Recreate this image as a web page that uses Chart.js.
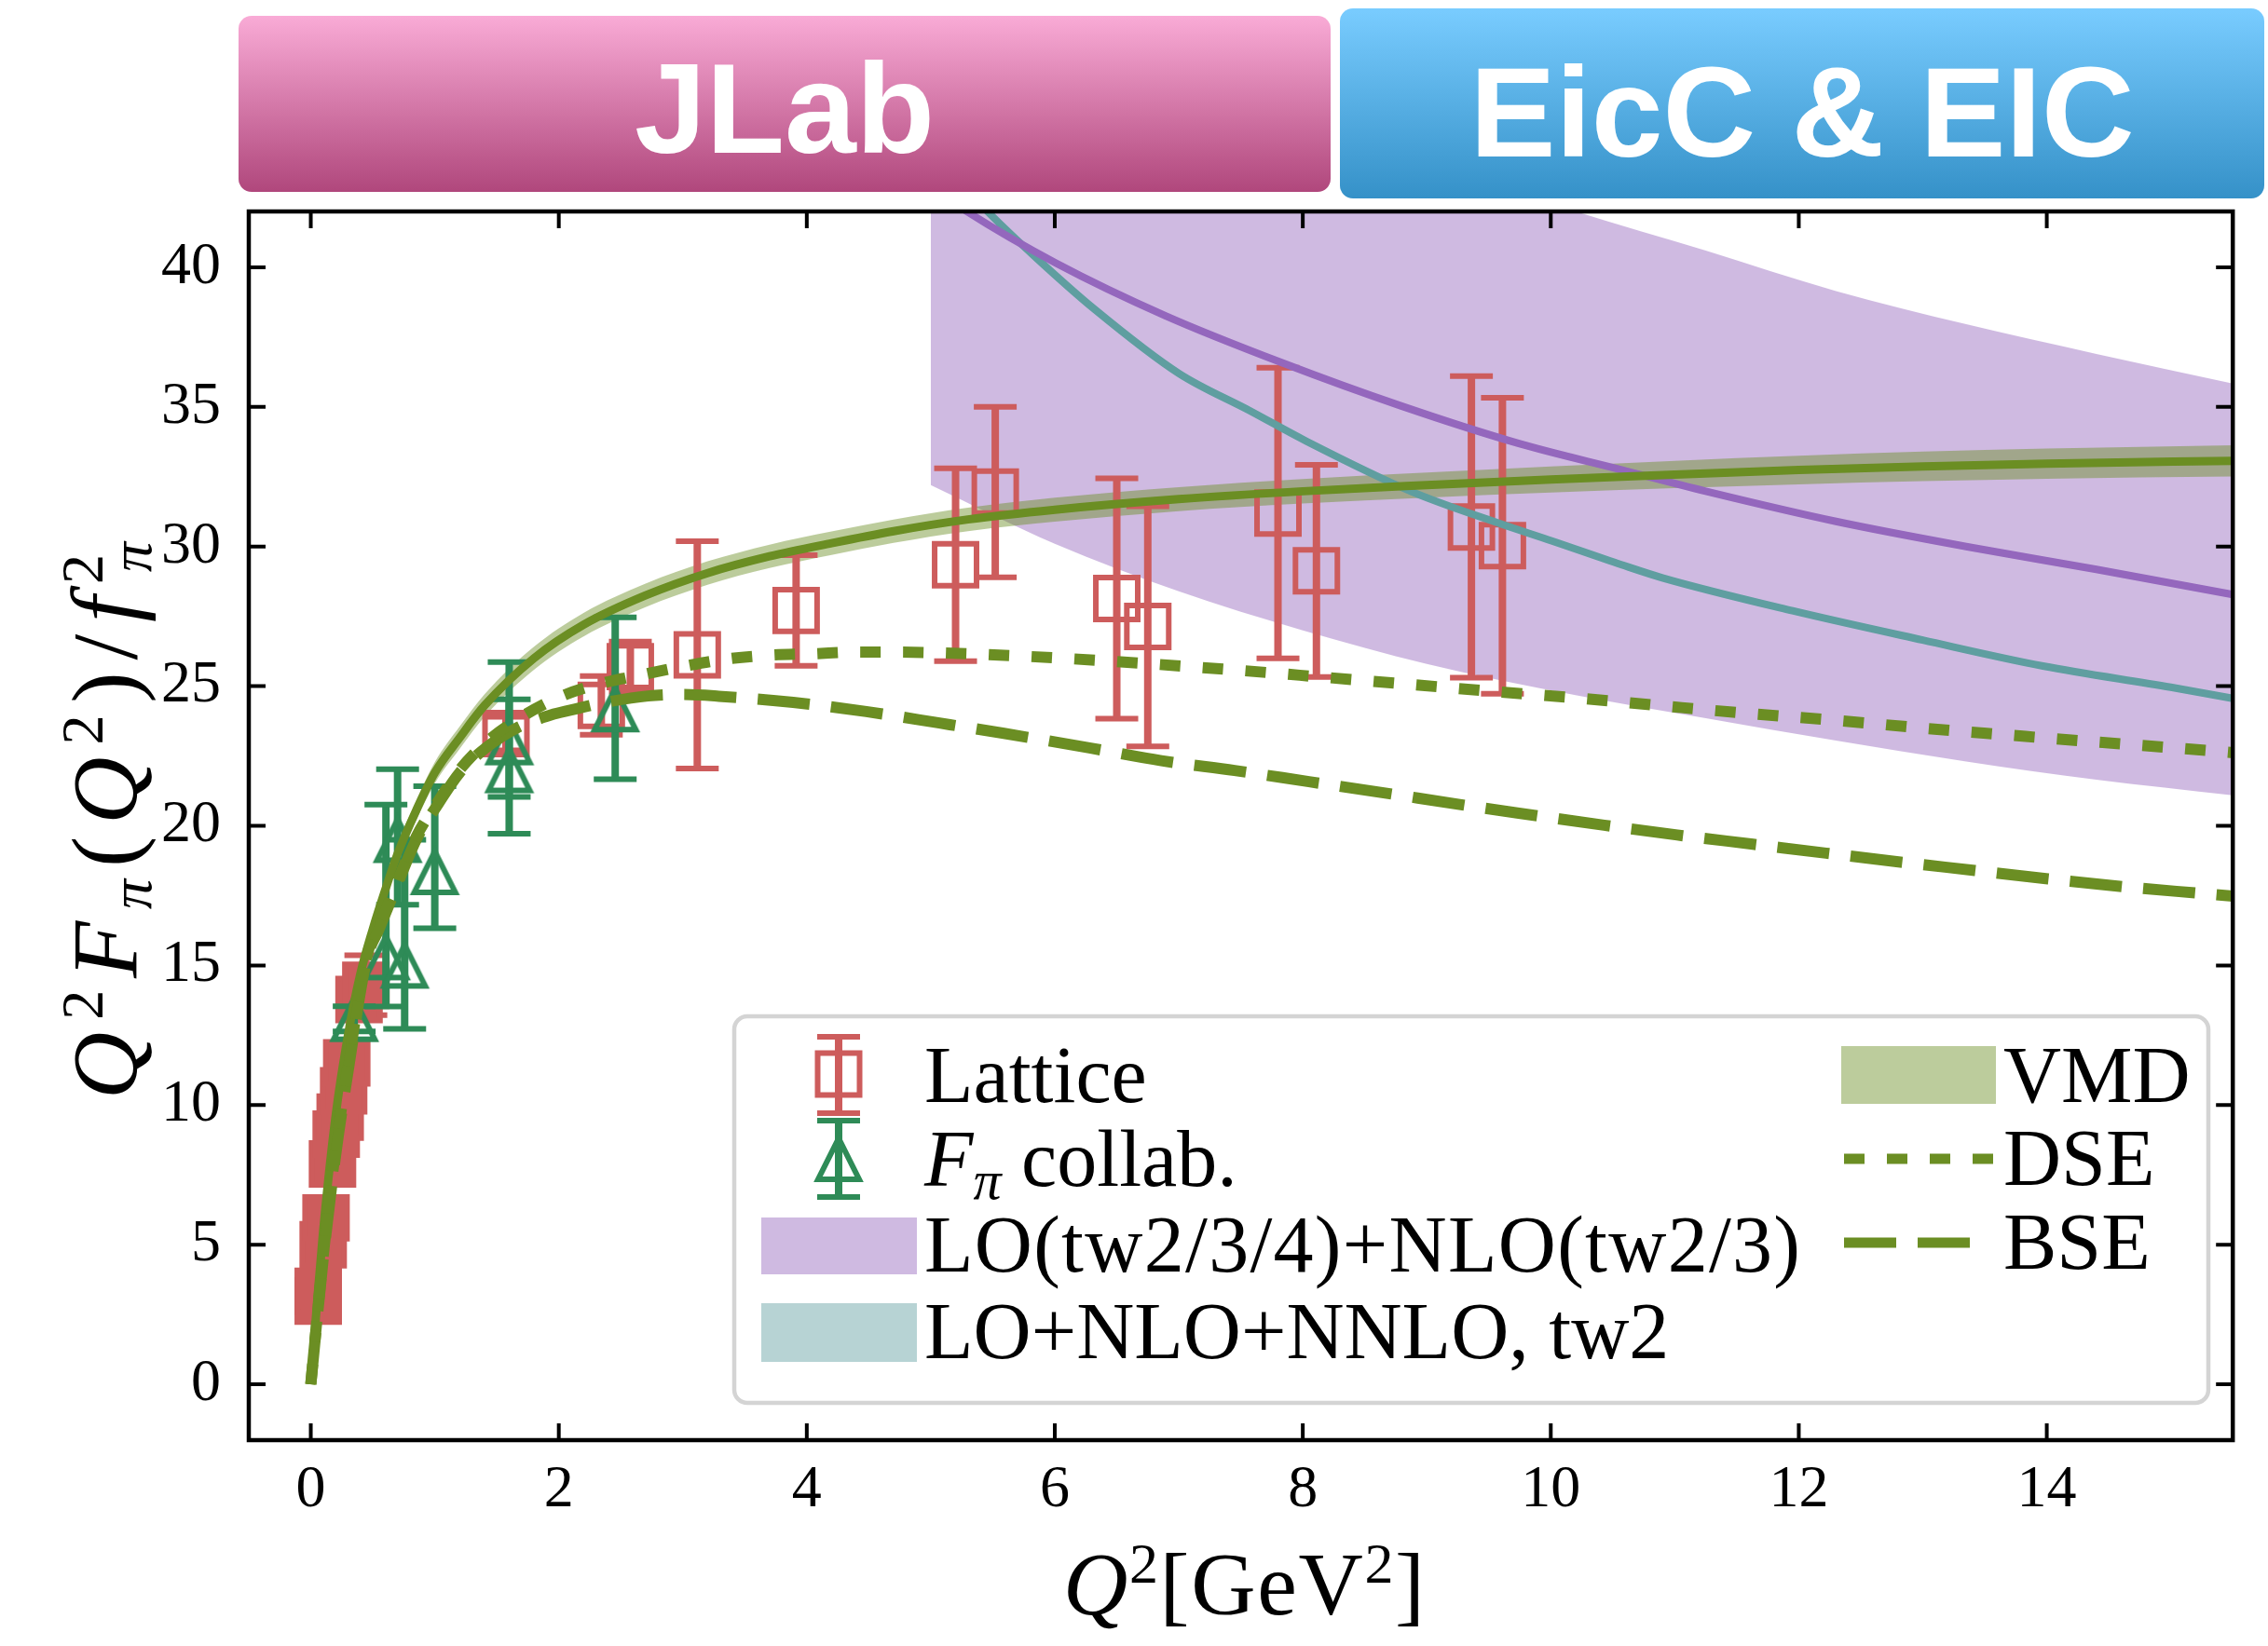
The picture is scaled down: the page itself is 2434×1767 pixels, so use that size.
<!DOCTYPE html>
<html>
<head>
<meta charset="utf-8">
<title>Pion form factor</title>
<script src="https://cdn.jsdelivr.net/npm/chart.js@4.4.0/dist/chart.umd.min.js"></script>
<style>
  html, body { margin: 0; padding: 0; background: #fff; }
  #wrap { position: relative; width: 2434px; height: 1767px; }
  #chart { position: absolute; left: 0; top: 0; }
  #overlay { position: absolute; left: 0; top: 0; pointer-events: none; }
  #overlay text { font-family: "Liberation Serif", "Times New Roman", serif; fill: #000; }
  #overlay .banner { font-family: "Liberation Sans", Arial, sans-serif; font-weight: bold; font-size: 138px; fill: #fff; }
</style>
</head>
<body>
<div id="wrap">
  <canvas id="chart" width="2434" height="1767"></canvas>
  <svg id="overlay" width="2434" height="1767" xmlns="http://www.w3.org/2000/svg">
    <defs>
      <linearGradient id="jlabFill" x1="0" y1="0" x2="0" y2="1">
        <stop offset="0" stop-color="#f9abd6"/>
        <stop offset="1" stop-color="#b0477c"/>
      </linearGradient>
      <linearGradient id="eicFill" x1="0" y1="0" x2="0" y2="1">
        <stop offset="0" stop-color="#79ccff"/>
        <stop offset="1" stop-color="#3591c8"/>
      </linearGradient>
    </defs>

    <!-- facility banners -->
    <rect x="256" y="17" width="1172" height="189" rx="14" fill="url(#jlabFill)"/>
    <rect x="1438" y="9" width="992" height="204" rx="14" fill="url(#eicFill)"/>
    <text class="banner" x="842" y="164" text-anchor="middle">JLab</text>
    <text class="banner" x="1934" y="168" text-anchor="middle">EicC &amp; EIC</text>

    <!-- axis titles -->
    <text x="1335" y="1733" text-anchor="middle" font-size="96" textLength="388" lengthAdjust="spacing"><tspan font-style="italic">Q</tspan><tspan font-size="62" dy="-34">2</tspan><tspan dy="34">[GeV</tspan><tspan font-size="62" dy="-34">2</tspan><tspan dy="34">]</tspan></text>
    <text transform="translate(146 881) rotate(-90)" text-anchor="middle" font-size="100" textLength="598" lengthAdjust="spacing"><tspan font-style="italic">Q</tspan><tspan font-size="64" dy="-36">2</tspan><tspan font-style="italic" dy="36">F</tspan><tspan font-size="64" font-style="italic" dy="16">π</tspan><tspan dy="-16">(</tspan><tspan font-style="italic">Q</tspan><tspan font-size="64" dy="-36">2</tspan><tspan dy="36">)/</tspan><tspan font-style="italic">f</tspan><tspan font-size="64" dy="-36">2</tspan><tspan font-size="64" font-style="italic" dx="-32" dy="52">π</tspan></text>

    <!-- legend -->
    <rect x="788" y="1091" width="1582" height="415" rx="14" fill="#fff" stroke="#d4d4d4" stroke-width="4.5"/>
    <g stroke="#cd5c5c" fill="none">
      <line x1="900" y1="1113" x2="900" y2="1195" stroke-width="8"/>
      <line x1="877" y1="1113" x2="923" y2="1113" stroke-width="6"/>
      <line x1="877" y1="1195" x2="923" y2="1195" stroke-width="6"/>
      <rect x="877.5" y="1130.5" width="45" height="45" stroke-width="6"/>
    </g>
    <g stroke="#2e8b57" fill="none">
      <line x1="900" y1="1203" x2="900" y2="1285" stroke-width="8"/>
      <line x1="877" y1="1203" x2="923" y2="1203" stroke-width="6"/>
      <line x1="877" y1="1285" x2="923" y2="1285" stroke-width="6"/>
      <polygon points="900,1222 878,1266 922,1266" stroke-width="6"/>
    </g>
    <rect x="817" y="1307" width="167" height="61" fill="rgba(148,103,189,0.45)"/>
    <rect x="817" y="1399" width="167" height="63" fill="rgba(95,158,160,0.45)"/>
    <rect x="1976" y="1123" width="166" height="62" fill="rgba(107,142,35,0.45)"/>
    <line x1="1979" y1="1244" x2="2142" y2="1244" stroke="#6b8e23" stroke-width="11" stroke-dasharray="22 24"/>
    <line x1="1979" y1="1334" x2="2115" y2="1334" stroke="#6b8e23" stroke-width="11" stroke-dasharray="56 23"/>

    <text x="992" y="1183" font-size="86">Lattice</text>
    <text x="992" y="1273" font-size="86"><tspan font-style="italic">F</tspan><tspan font-size="60" font-style="italic" dy="14">π</tspan><tspan dy="-14">&#160;collab.</tspan></text>
    <text x="992" y="1365" font-size="86" textLength="940" lengthAdjust="spacing">LO(tw2/3/4)+NLO(tw2/3)</text>
    <text x="992" y="1458" font-size="86">LO+NLO+NNLO, tw2</text>
    <text x="2150" y="1183" font-size="86">VMD</text>
    <text x="2150" y="1272" font-size="86">DSE</text>
    <text x="2150" y="1362" font-size="86">BSE</text>
  </svg>
</div>
<script>
// axis ticks
const xTicks = [0, 2, 4, 6, 8, 10, 12, 14];
const yTicks = [0, 5, 10, 15, 20, 25, 30, 35, 40];

// lattice QCD points (Q^2 in GeV^2, symmetric errors)
const latticeQ2 = [0.06, 0.06, 0.10, 0.123, 0.175, 0.205, 0.237, 0.265, 0.29, 0.389, 0.444,
  1.574, 2.343, 2.577, 3.117, 3.914, 5.20, 5.52, 6.50, 6.75, 7.80, 8.11, 9.36, 9.61];
const latticeVal = [2.98, 3.33, 5.0, 5.96, 7.89, 8.96, 9.57, 10.51, 11.51, 13.78, 14.29,
  23.3, 24.31, 25.7, 26.12, 27.71, 29.35, 31.95, 28.14, 27.14, 31.2, 29.13, 30.7, 30.03];
const latticeErr = [0.4, 0.4, 0.4, 0.4, 0.5, 0.5, 0.5, 0.5, 0.5, 0.5, 1.07,
  0.6, 1.05, 0.9, 4.07, 1.98, 3.45, 3.05, 4.3, 4.3, 5.2, 3.8, 5.4, 5.3];

// F_pi collaboration data
const fpiQ2 = [0.35, 0.606, 0.70, 0.757, 1.00, 1.60, 1.60, 2.455];
const fpiVal = [13.09, 15.3, 19.5, 15.0, 18.35, 23.0, 22.0, 24.18];
const fpiErrHigh = [0.45, 5.46, 2.53, 4.5, 3.07, 2.86, 2.53, 3.28];
const fpiErrLow = [0.45, 1.77, 2.33, 2.27, 2.02, 1.97, 2.28, 2.51];

// LO(tw2/3/4)+NLO(tw2/3) band and central curve
const pqcdBandQ2 = [5.0, 6.0, 7.0, 8.0, 9.0, 10.2, 11.25, 12.3, 13.35, 14.4, 15.5];
const pqcdBandHigh = [53.5, 50.4, 47.8, 45.6, 43.8, 42.0, 40.6, 39.15, 37.96, 36.9, 35.84];
const pqcdBandLow = [32.2, 30.1, 28.4, 27.0, 25.8, 24.68, 23.85, 23.05, 22.3, 21.65, 21.09];
const pqcdQ2 = [5.0, 5.29, 6.01, 6.89, 7.84, 8.79, 9.75, 10.57, 11.25, 12.3, 13.35, 14.4, 15.5];
const pqcdVal = [42.9, 42.0, 40.15, 38.27, 36.57, 35.04, 33.68, 32.75, 31.98, 30.9, 30.0, 29.18, 28.28];

// LO+NLO+NNLO, twist-2
const tw2Q2 = [5.0, 5.48, 5.86, 6.32, 7.0, 7.57, 8.03, 8.87, 9.55, 10.01, 10.57, 10.9, 11.95, 13.0, 13.97, 15.0, 15.5];
const tw2Val = [44.2, 41.9, 40.3, 38.5, 36.2, 34.87, 33.77, 31.98, 30.88, 30.2, 29.35, 28.88, 27.7, 26.65, 25.72, 24.96, 24.56];

// VMD curve with its band
const vmdQ2 = [0, 0.05, 0.1, 0.2, 0.3, 0.4, 0.5, 0.6, 0.7, 0.85, 1.0, 1.2, 1.4, 1.8, 2.2, 2.7, 3.2, 3.7,
  4.2, 4.7, 5.3, 6.0, 7.0, 8.0, 9.0, 10.0, 11.0, 12.0, 13.0, 14.0, 15.5];
const vmdMid = [0, 2.9, 5.5, 9.6, 12.5, 14.7, 16.3, 17.7, 19.0, 20.55, 21.9, 23.15, 24.3, 26.0, 27.2, 28.25, 29.05, 29.65,
  30.12, 30.55, 30.97, 31.32, 31.7, 31.98, 32.2, 32.4, 32.58, 32.74, 32.87, 32.97, 33.07];
const vmdLow = [0, 2.75, 5.3, 9.35, 12.2, 14.4, 16.0, 17.38, 18.66, 20.19, 21.52, 22.75, 23.9, 25.59, 26.78, 27.83, 28.63, 29.23,
  29.7, 30.13, 30.55, 30.89, 31.27, 31.54, 31.75, 31.93, 32.09, 32.23, 32.34, 32.43, 32.51];
const vmdHigh = [0, 3.05, 5.7, 9.85, 12.8, 15.0, 16.6, 18.02, 19.34, 20.91, 22.28, 23.55, 24.7, 26.41, 27.62, 28.67, 29.47, 30.07,
  30.54, 30.97, 31.39, 31.75, 32.13, 32.42, 32.65, 32.87, 33.07, 33.25, 33.4, 33.51, 33.63];

// DSE and BSE predictions
const dseQ2 = [0, 0.1, 0.2, 0.3, 0.45, 0.55, 0.68, 0.85, 1.03, 1.2, 1.43, 1.7, 2.0, 2.3, 2.66, 3.03, 3.37, 3.7, 4.05,
  4.4, 4.75, 5.1, 5.42, 6.14, 6.8, 7.48, 8.17, 8.85, 9.54, 10.22, 10.91, 11.6, 12.29, 12.97, 13.66, 14.34, 15.03, 15.5];
const dseVal = [0, 4.6, 8.4, 11.4, 15.3, 16.4, 17.8, 19.6, 20.9, 22.0, 23.05, 23.9, 24.6, 25.05, 25.4, 25.73, 25.98, 26.11, 26.16,
  26.22, 26.22, 26.19, 26.14, 25.98, 25.79, 25.57, 25.32, 25.07, 24.81, 24.57, 24.29, 24.02, 23.78, 23.51, 23.26, 23.02, 22.79, 22.62];
const bseQ2 = [0, 0.1, 0.2, 0.3, 0.45, 0.55, 0.68, 0.85, 1.03, 1.2, 1.43, 1.66, 1.96, 2.15, 2.35, 2.72, 3.0, 3.29, 3.89,
  4.48, 5.07, 5.59, 6.29, 6.86, 7.45, 8.05, 8.64, 9.24, 9.73, 10.43, 11.02, 11.63, 12.22, 12.82, 13.42, 14.01, 14.62, 15.21, 15.5];
const bseVal = [0, 4.5, 8.2, 11.2, 15.2, 16.3, 17.7, 19.5, 20.8, 21.9, 22.85, 23.5, 24.0, 24.2, 24.4, 24.65, 24.7, 24.64, 24.42,
  24.09, 23.68, 23.31, 22.78, 22.33, 21.98, 21.58, 21.19, 20.78, 20.46, 20.02, 19.67, 19.34, 19.02, 18.7, 18.4, 18.1, 17.82, 17.59, 17.48];

const red = "#cd5c5c";
const green = "#2e8b57";
const olive = "#6b8e23";
const purple = "#9467bd";
const teal = "#5f9ea0";

const pts = (xs, ys) => xs.map((x, i) => ({ x, y: ys[i] }));

// hollow matplotlib-style "^" marker
function triangleMarker(half, lw, color) {
  const c = document.createElement("canvas");
  const s = Math.ceil(2 * half + 4 * lw);
  c.width = s;
  c.height = s;
  const g = c.getContext("2d");
  const m = s / 2;
  g.strokeStyle = color;
  g.lineWidth = lw;
  g.lineJoin = "miter";
  g.beginPath();
  g.moveTo(m, m - half);
  g.lineTo(m + half, m + half);
  g.lineTo(m - half, m + half);
  g.closePath();
  g.stroke();
  return c;
}

// vertical error bars with caps, drawn just under each point set
const errorBars = {
  id: "errorBars",
  beforeDatasetDraw(chart, args) {
    const ds = chart.data.datasets[args.index];
    if (!ds.errLow) return;
    const { ctx, chartArea: a, scales } = chart;
    ctx.save();
    ctx.beginPath();
    ctx.rect(a.left, a.top, a.right - a.left, a.bottom - a.top);
    ctx.clip();
    ctx.strokeStyle = ds.pointBorderColor;
    ds.data.forEach((p, i) => {
      const px = scales.x.getPixelForValue(p.x);
      const top = scales.y.getPixelForValue(p.y + ds.errHigh[i]);
      const bot = scales.y.getPixelForValue(p.y - ds.errLow[i]);
      ctx.lineWidth = 8;
      ctx.beginPath();
      ctx.moveTo(px, top);
      ctx.lineTo(px, bot);
      ctx.stroke();
      ctx.lineWidth = 6;
      ctx.beginPath();
      ctx.moveTo(px - 23, top);
      ctx.lineTo(px + 23, top);
      ctx.moveTo(px - 23, bot);
      ctx.lineTo(px + 23, bot);
      ctx.stroke();
    });
    ctx.restore();
  },
};

// box frame with inward ticks on all four sides
const frame = {
  id: "frame",
  afterDatasetsDraw(chart) {
    const { ctx, chartArea: a, scales } = chart;
    const len = 18;
    ctx.save();
    ctx.strokeStyle = "#000";
    ctx.lineWidth = 4;
    ctx.beginPath();
    xTicks.forEach((v) => {
      const px = scales.x.getPixelForValue(v);
      ctx.moveTo(px, a.bottom);
      ctx.lineTo(px, a.bottom - len);
      ctx.moveTo(px, a.top);
      ctx.lineTo(px, a.top + len);
    });
    yTicks.forEach((v) => {
      const py = scales.y.getPixelForValue(v);
      ctx.moveTo(a.left, py);
      ctx.lineTo(a.left + len, py);
      ctx.moveTo(a.right, py);
      ctx.lineTo(a.right - len, py);
    });
    ctx.stroke();
    ctx.lineWidth = 4.5;
    ctx.strokeRect(a.left, a.top, a.right - a.left, a.bottom - a.top);
    ctx.restore();
  },
};

const tickFont = { family: "'Liberation Serif', 'Times New Roman', serif", size: 64 };
const band = (data, color, fill, order) => ({
  data, fill, backgroundColor: color, borderColor: "rgba(0,0,0,0)", borderWidth: 0,
  pointRadius: 0, clip: 0, order,
});
const curve = (label, data, color, width, dash, order) => ({
  label, data, borderColor: color, borderWidth: width, borderDash: dash, borderCapStyle: "butt",
  fill: false, pointRadius: 0, clip: 0, order,
});

const datasets = [
  band(pts(pqcdBandQ2, pqcdBandHigh), "rgba(148,103,189,0.45)", "+1", 10),
  band(pts(pqcdBandQ2, pqcdBandLow), "rgba(0,0,0,0)", false, 9),
  band(pts(vmdQ2, vmdHigh), "rgba(107,142,35,0.45)", "+1", 8),
  band(pts(vmdQ2, vmdLow), "rgba(0,0,0,0)", false, 7),
  {
    label: "Lattice",
    data: pts(latticeQ2, latticeVal),
    showLine: false,
    pointStyle: "rect",
    pointRadius: 31.8,
    pointBorderWidth: 6,
    pointBorderColor: red,
    // the dense low-Q2 points merge into a solid block
    pointBackgroundColor: (c) => (c.raw && c.raw.x < 0.5 ? red : "rgba(0,0,0,0)"),
    errLow: latticeErr,
    errHigh: latticeErr,
    order: 5,
  },
  {
    label: "F_pi collab.",
    data: pts(fpiQ2, fpiVal),
    showLine: false,
    pointStyle: triangleMarker(22, 6, green),
    pointRadius: 25,
    pointBorderColor: green,
    errLow: fpiErrLow,
    errHigh: fpiErrHigh,
    order: 4,
  },
  curve("LO(tw2/3/4)+NLO(tw2/3)", pts(pqcdQ2, pqcdVal), purple, 8, [], 3),
  curve("LO+NLO+NNLO, tw2", pts(tw2Q2, tw2Val), teal, 8, [], 3),
  curve("VMD", pts(vmdQ2, vmdMid), olive, 9, [], 2),
  curve("DSE", pts(dseQ2, dseVal), olive, 12, [22, 24], 1),
  curve("BSE", pts(bseQ2, bseVal), olive, 12, [56, 23], 1),
];

new Chart(document.getElementById("chart"), {
  type: "line",
  data: { datasets },
  options: {
    responsive: false,
    animation: false,
    devicePixelRatio: 1,
    events: [],
    layout: { padding: { top: 227, right: 22, left: 0, bottom: 0 } },
    elements: {
      line: { capBezierPoints: false, cubicInterpolationMode: "monotone" },
    },
    plugins: { legend: { display: false }, tooltip: { enabled: false } },
    scales: {
      x: {
        type: "linear",
        min: -0.5,
        max: 15.5,
        grid: { display: false },
        border: { display: false },
        ticks: { color: "#000", font: tickFont, padding: 8 },
        afterBuildTicks: (s) => { s.ticks = xTicks.map((v) => ({ value: v })); },
        afterFit: (s) => { s.height = 221; },
      },
      y: {
        type: "linear",
        min: -2,
        max: 42,
        grid: { display: false },
        border: { display: false },
        ticks: { color: "#000", font: tickFont, padding: 22 },
        afterBuildTicks: (s) => { s.ticks = yTicks.map((v) => ({ value: v })); },
        afterFit: (s) => { s.width = 267; },
      },
    },
  },
  plugins: [errorBars, frame],
});
</script>
</body>
</html>
